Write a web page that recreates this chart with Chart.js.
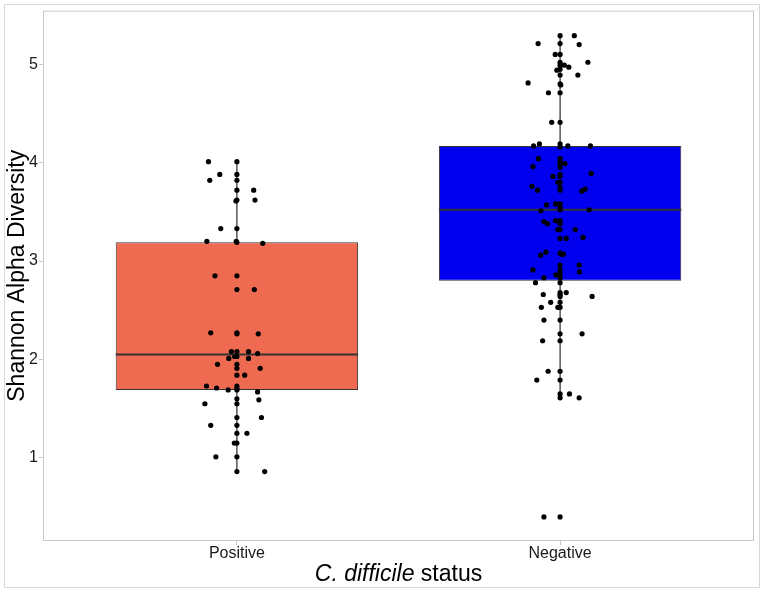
<!DOCTYPE html>
<html>
<head>
<meta charset="utf-8">
<script src="https://cdn.jsdelivr.net/npm/chart.js@4.4.1/dist/chart.umd.min.js"></script>
<style>
  html, body { margin: 0; padding: 0; background: #fff; }
  #wrap { width: 764px; height: 592px; }
</style>
</head>
<body>
<div id="wrap"><canvas id="chart" width="764" height="592"></canvas></div>
<script>
// Shannon alpha diversity by C. difficile status

const groups = ['Positive', 'Negative'];
const boxColors = ['#EE6A50', '#0000EE'];

// box stats per group
const whiskerLow = [0.86, 1.61];
const q1 = [1.69, 2.80];
const medians = [2.05, 3.52];
const q3 = [3.19, 4.17];
const whiskerHigh = [4.01, 5.29];

// jittered points: value + horizontal offset from the group centre (category units)
const posValues = [4.01, 4.01, 3.88, 3.88, 3.82, 3.82, 3.72, 3.72, 3.62, 3.61, 3.62, 3.33, 3.33,
    3.20, 3.20, 3.19, 3.18, 2.85, 2.85, 2.71, 2.71, 2.27, 2.27, 2.26, 2.26, 2.08, 2.08, 2.08, 2.06,
    2.01, 2.03, 2.03, 2.01, 1.95, 1.95, 1.91, 1.91, 1.84, 1.84, 1.73, 1.71, 1.69, 1.73, 1.70, 1.69,
    1.67, 1.60, 1.59, 1.55, 1.55, 1.41, 1.41, 1.33, 1.33, 1.25, 1.25, 1.15, 1.15, 1.01, 1.01, 0.86, 0.86];
const posOffsets = [-0.088, 0, -0.053, 0, -0.084, 0, 0.052, 0, 0.056, -0.003, 0, -0.050, 0,
    -0.093, -0.002, 0, 0.080, -0.068, 0, 0, 0.054, -0.081, 0, 0, 0.066, -0.017, 0, 0.036, 0.064,
    -0.025, -0.007, 0, 0.036, -0.060, 0, 0, 0.072, 0, 0.024, -0.094, -0.063, -0.027, 0, 0, 0,
    0.064, 0, 0.068, -0.099, 0, 0.076, 0, -0.081, 0, 0.031, 0, -0.008, 0, -0.065, 0, 0, 0.086];

const negValues = [5.29, 5.29, 5.21, 5.21, 5.20, 5.10, 5.10, 5.02, 5.02, 4.99, 4.99, 4.97, 4.94,
    4.95, 4.89, 4.89, 4.81, 4.80, 4.79, 4.71, 4.71, 4.41, 4.41, 4.17, 4.19, 4.19, 4.16, 4.17, 4.17,
    4.04, 4.04, 4.01, 3.98, 3.95, 3.99, 3.96, 3.89, 3.86, 3.88, 3.86, 3.80, 3.80, 3.76, 3.75, 3.72,
    3.72, 3.71, 3.73, 3.57, 3.58, 3.58, 3.55, 3.51, 3.52, 3.52, 3.40, 3.38, 3.41, 3.41, 3.38, 3.32,
    3.32, 3.32, 3.23, 3.23, 3.24, 3.09, 3.06, 3.08, 3.07, 3.07, 2.96, 2.96, 2.91, 2.91, 2.89, 2.83,
    2.86, 2.87, 2.83, 2.78, 2.78, 2.66, 2.68, 2.66, 2.64, 2.68, 2.64, 2.58, 2.58, 2.53, 2.53, 2.53,
    2.40, 2.40, 2.26, 2.26, 2.19, 2.19, 1.88, 1.88, 1.79, 1.79, 1.65, 1.61, 1.65, 1.61, 0.40, 0.40];
const negOffsets = [0, 0.044, -0.068, 0, 0.059, -0.015, 0, 0.086, 0, 0, 0.013, 0.027, -0.010,
    0, 0, 0.055, -0.099, 0, 0.002, -0.036, 0, -0.026, 0, -0.082, -0.064, 0, 0, 0.024, 0.094,
    -0.067, 0, 0, 0, 0, 0.015, -0.084, 0.096, -0.022, 0, 0, -0.007, 0, -0.087, 0, 0,
    -0.070, 0.067, 0.077, -0.042, -0.014, 0, 0, -0.059, 0, 0.090, -0.050, -0.039, -0.014, 0, 0, -0.007,
    0, 0.047, 0, 0.019, 0.071, -0.044, -0.060, 0, 0.004, 0.010, 0, 0.059, -0.084, 0, 0.060, -0.050,
    -0.013, 0, 0, -0.076, 0, -0.052, 0, 0, 0, 0.019, 0.099, -0.029, 0, -0.058, -0.007, 0,
    -0.050, 0, 0, 0.068, -0.054, 0, -0.037, 0, -0.072, 0, 0, 0, 0.029, 0.059, -0.050, 0];

const yTicks = [1, 2, 3, 4, 5];

const BOX_HALF = 0.375;
const FONT = "'Liberation Sans', Arial, sans-serif";

function jitterPoints(values, offsets, centre) {
    return values.map((v, i) => ({ x: centre + offsets[i], y: v }));
}

// whiskers and medians as line segments separated by gaps
const whiskerData = [];
const medianData = [];
groups.forEach((g, i) => {
    const c = i + 1;
    whiskerData.push({ x: c, y: whiskerLow[i] }, { x: c, y: whiskerHigh[i] }, { x: c + 0.5, y: null });
    medianData.push({ x: c - BOX_HALF, y: medians[i] }, { x: c + BOX_HALF, y: medians[i] }, { x: c + 0.5, y: null });
});

const frame = {
    id: 'frame',
    beforeDraw(chart) {
        const ctx = chart.ctx;
        ctx.save();
        ctx.fillStyle = '#ffffff';
        ctx.fillRect(0, 0, chart.width, chart.height);
        ctx.restore();
    },
    afterDraw(chart) {
        const { ctx, chartArea: a } = chart;
        ctx.save();
        ctx.lineWidth = 1;
        ctx.strokeStyle = '#d9d9d9';
        ctx.strokeRect(4.5, 4.5, chart.width - 9, chart.height - 9);
        ctx.strokeStyle = '#c8c8c8';
        ctx.strokeRect(a.left + 0.5, a.top + 0.5, a.width - 1, a.height - 1);

        // x title with italic species name
        ctx.fillStyle = '#000';
        ctx.textBaseline = 'middle';
        const italic = 'italic 23px ' + FONT;
        const normal = '23px ' + FONT;
        const p1 = 'C. difficile', p2 = ' status';
        ctx.font = italic;
        const w1 = ctx.measureText(p1).width;
        ctx.font = normal;
        const w2 = ctx.measureText(p2).width;
        let x = (a.left + a.right) / 2 - (w1 + w2) / 2;
        const y = 575;
        ctx.font = italic;
        ctx.textAlign = 'left';
        ctx.fillText(p1, x, y);
        ctx.font = normal;
        ctx.fillText(p2, x + w1, y);

        // y title
        ctx.translate(18, (a.top + a.bottom) / 2);
        ctx.rotate(-Math.PI / 2);
        ctx.textAlign = 'center';
        ctx.fillText('Shannon Alpha Diversity', 0, 0);
        ctx.restore();
    }
};

new Chart(document.getElementById('chart'), {
    data: {
        datasets: [
            {
                type: 'scatter',
                data: [...jitterPoints(posValues, posOffsets, 1), ...jitterPoints(negValues, negOffsets, 2)],
                pointRadius: 2.6,
                pointBackgroundColor: '#000',
                pointBorderWidth: 0
            },
            {
                type: 'line',
                data: medianData,
                borderColor: '#333333',
                borderWidth: 2,
                pointRadius: 0,
                spanGaps: false
            },
            {
                type: 'bar',
                data: groups.map((g, i) => ({ x: i + 1, y: [q1[i], q3[i]] })),
                backgroundColor: boxColors,
                borderColor: '#333333',
                borderWidth: 1,
                borderSkipped: false,
                categoryPercentage: 1,
                barPercentage: 0.75
            },
            {
                type: 'line',
                data: whiskerData,
                borderColor: '#000',
                borderWidth: 1,
                pointRadius: 0,
                spanGaps: false
            }
        ]
    },
    options: {
        responsive: false,
        animation: false,
        events: [],
        layout: { padding: { top: 8, right: 10, left: 0, bottom: 0 } },
        plugins: {
            legend: { display: false },
            tooltip: { enabled: false }
        },
        scales: {
            x: {
                type: 'linear',
                min: 0.4,
                max: 2.6,
                offset: false,
                afterBuildTicks: (s) => { s.ticks = groups.map((g, i) => ({ value: i + 1 })); },
                afterFit: (s) => { s.height = 51; },
                ticks: {
                    callback: (v) => groups[v - 1],
                    color: '#1a1a1a',
                    font: { family: FONT, size: 16 },
                    padding: -1
                },
                grid: { drawOnChartArea: false, offset: false, tickLength: 4, color: '#c8c8c8' },
                border: { display: false }
            },
            y: {
                min: 0.155,
                max: 5.545,
                afterBuildTicks: (s) => { s.ticks = yTicks.map(v => ({ value: v })); },
                afterFit: (s) => { s.width = 43; },
                ticks: {
                    color: '#1a1a1a',
                    font: { family: FONT, size: 16 },
                    padding: 1
                },
                grid: { drawOnChartArea: false, tickLength: 4, color: '#c8c8c8' },
                border: { display: false }
            }
        }
    },
    plugins: [frame]
});
</script>
</body>
</html>
